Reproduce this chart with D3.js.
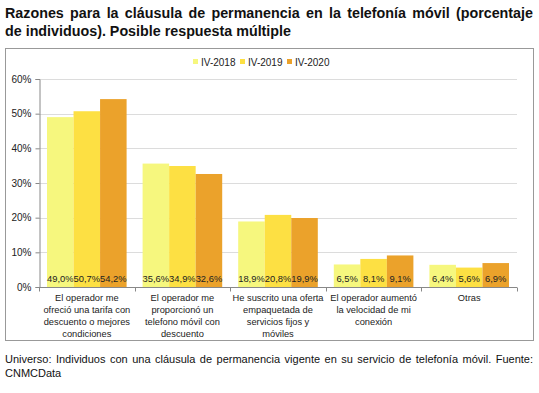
<!DOCTYPE html>
<html>
<head>
<meta charset="utf-8">
<script src="https://cdn.jsdelivr.net/npm/d3@7"></script>
<style>
  body { margin: 0; background: #fff; font-family: "Liberation Sans", Arial, sans-serif; }
  #wrap { position: relative; width: 539px; height: 393px; }
  .title { position: absolute; left: 5px; top: 4px; width: 528px; font-weight: bold; font-size: 14.3px; line-height: 18px; color: #111; z-index: 2; }
  .title .l1 { text-align: justify; text-align-last: justify; }
  .foot { position: absolute; left: 5px; top: 352px; width: 528px; font-size: 11px; line-height: 14px; text-align: justify; color: #111; z-index: 2; }
  svg { position: absolute; left: 0; top: 0; }
</style>
</head>
<body>
<div id="wrap">
  <div class="title"><div class="l1">Razones para la cláusula de permanencia en la telefonía móvil (porcentaje</div><div>de individuos). Posible respuesta múltiple</div></div>
  <div id="chart"></div>
  <div class="foot">Universo: Individuos con una cláusula de permanencia vigente en su servicio de telefonía móvil. Fuente: CNMCData</div>
</div>
<script>
const categories = [
  ["El operador me", "ofreció una tarifa con", "descuento o mejores", "condiciones"],
  ["El operador me", "proporcionó un", "telefono móvil con", "descuento"],
  ["He suscrito una oferta", "empaquetada de", "servicios fijos y", "móviles"],
  ["El operador aumentó", "la velocidad de mi", "conexión"],
  ["Otras"]
];
const series = ["IV-2018", "IV-2019", "IV-2020"];
const v2018 = [49.0, 35.6, 18.9, 6.5, 6.4];
const v2019 = [50.7, 34.9, 20.8, 8.1, 5.6];
const v2020 = [54.2, 32.6, 19.9, 9.1, 6.9];
const yTicks = [0, 10, 20, 30, 40, 50, 60];
const colors = ["#f6f77e", "#fde043", "#eba22b"];

const values = [v2018, v2019, v2020];
const W = 539, H = 393;
const plotLeft = 39, plotRight = 517, plotTop = 79, plotBottom = 287;
const font = "Liberation Sans, Arial, sans-serif";

const svg = d3.select("#chart").append("svg")
  .attr("width", W).attr("height", H)
  .attr("font-family", font);

// frame
svg.append("rect")
  .attr("x", 5.5).attr("y", 48.5).attr("width", 528).attr("height", 292)
  .attr("fill", "none").attr("stroke", "#999");

const x0 = d3.scaleBand().domain(d3.range(categories.length)).range([plotLeft, plotRight]);
const x1 = d3.scaleBand().domain(d3.range(series.length)).range([8, x0.bandwidth() - 8]);
const y = d3.scaleLinear().domain([0, 60]).range([plotBottom, plotTop]);

// gridlines
svg.append("g").selectAll("line").data(yTicks.slice(1)).enter().append("line")
  .attr("x1", plotLeft).attr("x2", plotRight)
  .attr("y1", d => Math.round(y(d)) + 0.5).attr("y2", d => Math.round(y(d)) + 0.5)
  .attr("stroke", "#dcdcdc");

// bars
const groups = svg.append("g").selectAll("g").data(categories).enter().append("g")
  .attr("transform", (d, i) => `translate(${x0(i)},0)`);

groups.each(function(c, i) {
  const g = d3.select(this);
  series.forEach((s, k) => {
    const v = values[k][i];
    g.append("rect")
      .attr("x", x1(k)).attr("width", x1.bandwidth())
      .attr("y", y(v)).attr("height", y(0) - y(v))
      .attr("fill", colors[k]);
    g.append("text")
      .attr("x", x1(k) + x1.bandwidth() / 2).attr("y", plotBottom - 5)
      .attr("text-anchor", "middle").attr("font-size", 9.4).attr("fill", "#222")
      .text(d3.format(".1f")(v).replace(".", ",") + "%");
  });
});

// y axis
const yAxis = svg.append("g").attr("transform", `translate(${plotLeft + 0.5},0)`)
  .call(d3.axisLeft(y).tickValues(yTicks).tickFormat(d => d + "%").tickSize(4).tickPadding(4));
yAxis.selectAll("line, path").attr("stroke", "#888");
yAxis.selectAll("text").attr("font-size", 10).attr("fill", "#222").attr("font-family", font);

// x axis
const xAxis = svg.append("g").attr("transform", `translate(0,${plotBottom + 0.5})`);
xAxis.append("line").attr("x1", plotLeft).attr("x2", plotRight).attr("stroke", "#888");
xAxis.selectAll(".tk").data(d3.range(categories.length + 1)).enter().append("line")
  .attr("x1", i => Math.round(plotLeft + i * x0.step()) + 0.5)
  .attr("x2", i => Math.round(plotLeft + i * x0.step()) + 0.5)
  .attr("y1", 0).attr("y2", 4).attr("stroke", "#888");

const labels = svg.append("g").selectAll("text").data(categories).enter().append("text")
  .attr("text-anchor", "middle").attr("font-size", 9.3).attr("fill", "#222")
  .attr("transform", (d, i) => `translate(${x0(i) + x0.bandwidth() / 2},${plotBottom + 14})`);
labels.each(function(lines) {
  d3.select(this).selectAll("tspan").data(lines).enter().append("tspan")
    .attr("x", 0).attr("dy", (d, j) => j === 0 ? 0 : 12).text(d => d);
});

// legend
const legend = svg.append("g").attr("transform", "translate(0,62)");
const legendX = [193, 240, 287];
series.forEach((s, k) => {
  legend.append("rect").attr("x", legendX[k]).attr("y", -3).attr("width", 5).attr("height", 5).attr("fill", colors[k]);
  legend.append("text").attr("x", legendX[k] + 8).attr("y", 3.5)
    .attr("font-size", 10).attr("fill", "#222").text(s);
});
</script>
</body>
</html>
